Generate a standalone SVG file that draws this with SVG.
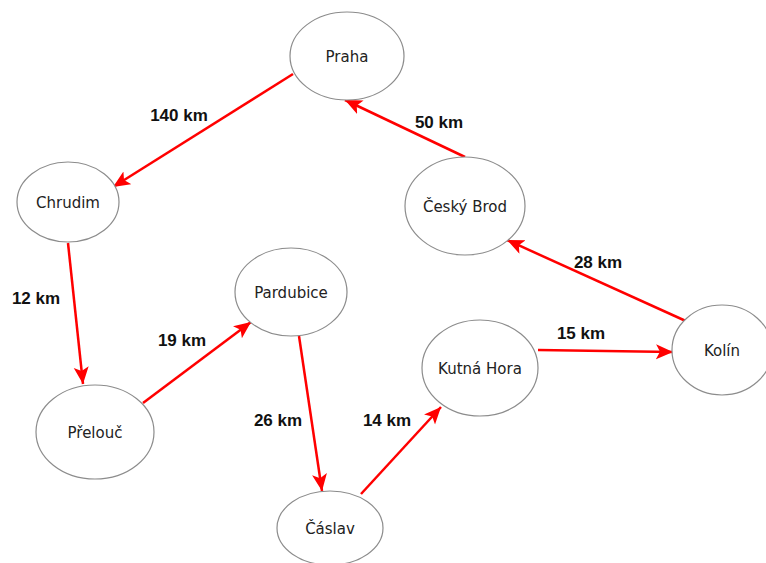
<svg xmlns="http://www.w3.org/2000/svg" width="766" height="563" viewBox="0 0 766 563">
<style>
.node ellipse{fill:#fff;stroke:#8c8c8c;stroke-width:1.2}
.node text{font-family:"DejaVu Sans",sans-serif;font-size:15px;fill:#222;text-anchor:middle;dominant-baseline:central}
.edges line{stroke:#ff0000;stroke-width:2.5;marker-end:url(#ah)}
.lbl{font-family:"Liberation Sans",Arial,sans-serif;font-size:17px;font-weight:bold;fill:#111;text-anchor:middle;dominant-baseline:central}
</style>
<defs>
<marker id="ah" markerUnits="userSpaceOnUse" markerWidth="20" markerHeight="16" refX="17" refY="7.5" orient="auto">
<path d="M0,0 L17,7.5 L0,15 L4,7.5 z" fill="#ff0000"/>
</marker>
</defs>
<rect width="766" height="563" fill="#fff"/>
<g class="edges">
<line x1="293" y1="74" x2="113" y2="187"/>
<line x1="68" y1="243" x2="83" y2="384"/>
<line x1="143" y1="403" x2="251" y2="322"/>
<line x1="299" y1="336" x2="322" y2="491"/>
<line x1="361" y1="494" x2="441" y2="407"/>
<line x1="538" y1="350" x2="673" y2="352"/>
<line x1="688" y1="322" x2="507" y2="240"/>
<line x1="465" y1="157" x2="345" y2="100"/>
</g>
<g id="labels">
<text class="lbl" x="179" y="115">140 km</text>
<text class="lbl" x="439" y="122">50 km</text>
<text class="lbl" x="36" y="298">12 km</text>
<text class="lbl" x="182" y="340">19 km</text>
<text class="lbl" x="598" y="262">28 km</text>
<text class="lbl" x="581" y="333">15 km</text>
<text class="lbl" x="278" y="420">26 km</text>
<text class="lbl" x="387" y="420">14 km</text>
</g>
<g id="praha" class="node"><ellipse cx="347" cy="56" rx="57" ry="44"/><text x="347" y="57">Praha</text></g>
<g id="chrudim" class="node"><ellipse cx="68" cy="202" rx="51" ry="40"/><text x="68" y="203">Chrudim</text></g>
<g id="cesky-brod" class="node"><ellipse cx="465" cy="206" rx="60" ry="49"/><text x="465" y="207">Český Brod</text></g>
<g id="pardubice" class="node"><ellipse cx="291" cy="292" rx="56" ry="44"/><text x="291" y="293">Pardubice</text></g>
<g id="kutna-hora" class="node"><ellipse cx="480" cy="368" rx="58" ry="48"/><text x="480" y="369">Kutná Hora</text></g>
<g id="kolin" class="node"><ellipse cx="722" cy="350" rx="50" ry="45"/><text x="722" y="351">Kolín</text></g>
<g id="prelouc" class="node"><ellipse cx="95" cy="432" rx="59" ry="47"/><text x="95" y="433">Přelouč</text></g>
<g id="caslav" class="node"><ellipse cx="330" cy="528" rx="53" ry="37"/><text x="330" y="529">Čáslav</text></g>
</svg>
